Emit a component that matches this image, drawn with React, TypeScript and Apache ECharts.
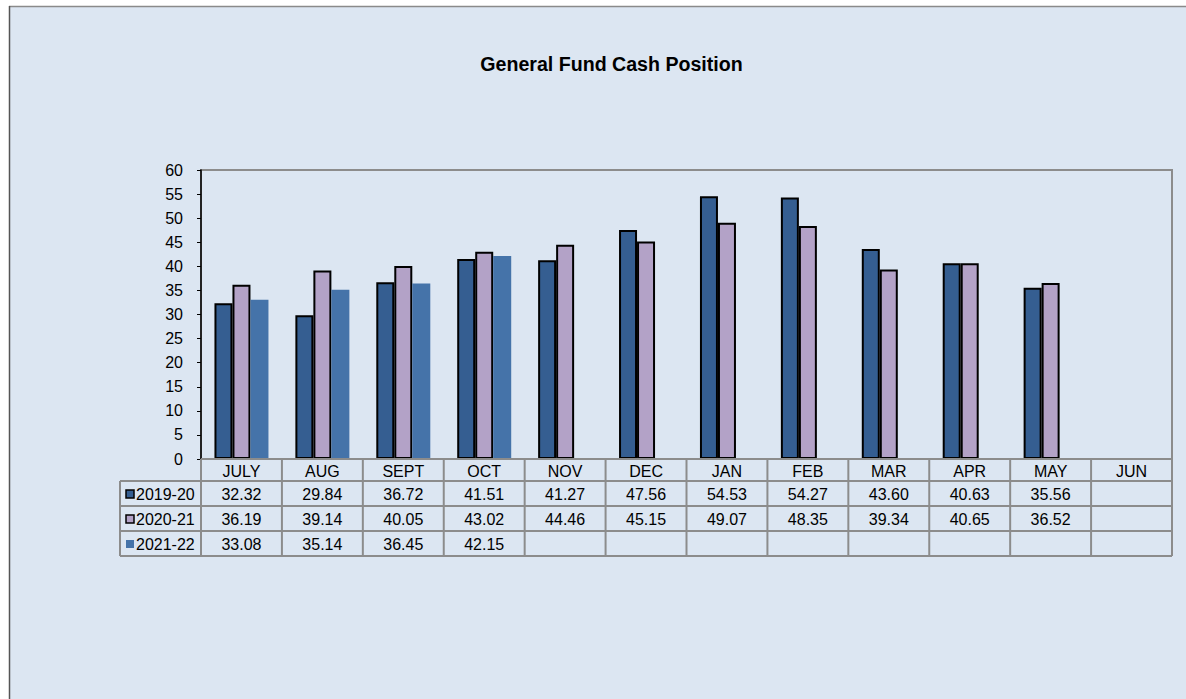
import React, { useEffect, useRef } from "react";
import * as echarts from "echarts";

const months = ["JULY", "AUG", "SEPT", "OCT", "NOV", "DEC", "JAN", "FEB", "MAR", "APR", "MAY", "JUN"];
const seriesNames = ["2019-20", "2020-21", "2021-22"];
const fy2019: (number | null)[] = [32.32, 29.84, 36.72, 41.51, 41.27, 47.56, 54.53, 54.27, 43.6, 40.63, 35.56, null];
const fy2020: (number | null)[] = [36.19, 39.14, 40.05, 43.02, 44.46, 45.15, 49.07, 48.35, 39.34, 40.65, 36.52, null];
const fy2021: (number | null)[] = [33.08, 35.14, 36.45, 42.15, null, null, null, null, null, null, null, null];
const colors = ["#355E91", "#B3A2C7", "#4573A9"];
const borders = ["#000000", "#000000", null];

export default function App() {
  const ref = useRef<HTMLDivElement>(null);
  useEffect(() => {
    if (!ref.current) return;
    const chart = echarts.init(ref.current, undefined, { renderer: "svg" });
    const gridLeft = 201;
    const gridRight = 1172;
    const gridTop = 170;
    const gridBottom = 459;
    const cellW = (gridRight - gridLeft) / months.length;
    const headerH = 22;
    const rowH = 25;
    const legendLeft = 120;
    const lineColor = "#8C8C8C";
    const font = "16px 'Liberation Sans', Arial, sans-serif";
    const allData = [fy2019, fy2020, fy2021];
    const fmt = (v: number | null) => (v == null ? "" : v.toFixed(2));

    const graphics: any[] = [];
    graphics.push({
      type: "rect",
      z: -10,
      shape: { x: 9, y: 6, width: 1186, height: 699 },
      style: { fill: "#DCE6F2" },
      silent: true,
    });
    graphics.push({
      type: "line",
      z: -9,
      shape: { x1: 9, y1: 6.5, x2: 1186, y2: 6.5 },
      style: { stroke: "#8A8A8A", lineWidth: 1.5 },
    });
    graphics.push({
      type: "line",
      z: -9,
      shape: { x1: 9.5, y1: 6, x2: 9.5, y2: 699 },
      style: { stroke: "#555555", lineWidth: 1.5 },
    });
    graphics.push({
      type: "text",
      z: 6,
      x: 611.5,
      y: 64,
      style: {
        text: "General Fund Cash Position",
        fill: "#000",
        font: "bold 19.6px 'Liberation Sans', Arial, sans-serif",
        align: "center",
        verticalAlign: "middle",
      },
    });

    const tableBottom = gridBottom + headerH + rowH * 3;
    const hLines = [
      { y: gridBottom, x1: gridLeft, x2: gridRight },
      { y: gridBottom + headerH, x1: legendLeft, x2: gridRight },
      { y: gridBottom + headerH + rowH, x1: legendLeft, x2: gridRight },
      { y: gridBottom + headerH + rowH * 2, x1: legendLeft, x2: gridRight },
      { y: tableBottom, x1: legendLeft, x2: gridRight },
    ];
    hLines.forEach((l) =>
      graphics.push({
        type: "line",
        z: 5,
        shape: { x1: l.x1, y1: l.y, x2: l.x2, y2: l.y },
        style: { stroke: lineColor, lineWidth: 2 },
      })
    );
    graphics.push({
      type: "line",
      z: 5,
      shape: { x1: legendLeft, y1: gridBottom + headerH, x2: legendLeft, y2: tableBottom },
      style: { stroke: lineColor, lineWidth: 2 },
    });
    for (let i = 0; i <= months.length; i++) {
      const x = gridLeft + i * cellW;
      graphics.push({
        type: "line",
        z: 5,
        shape: { x1: x, y1: gridBottom, x2: x, y2: tableBottom },
        style: { stroke: lineColor, lineWidth: 2 },
      });
    }
    months.forEach((m, i) =>
      graphics.push({
        type: "text",
        z: 6,
        x: gridLeft + (i + 0.5) * cellW,
        y: gridBottom + headerH / 2 + 1,
        style: { text: m, fill: "#000", font, align: "center", verticalAlign: "middle" },
      })
    );
    seriesNames.forEach((name, r) => {
      const cy = gridBottom + headerH + rowH * (r + 0.5) + 1;
      graphics.push({
        type: "rect",
        z: 6,
        shape: { x: 126, y: cy - 4.5, width: 8, height: 8 },
        style: { fill: colors[r], stroke: borders[r] || colors[r], lineWidth: borders[r] ? 1.5 : 0 },
      });
      graphics.push({
        type: "text",
        z: 6,
        x: 136,
        y: cy,
        style: { text: name, fill: "#000", font, align: "left", verticalAlign: "middle" },
      });
      allData[r].forEach((v, i) =>
        graphics.push({
          type: "text",
          z: 6,
          x: gridLeft + (i + 0.5) * cellW,
          y: cy,
          style: { text: fmt(v), fill: "#000", font, align: "center", verticalAlign: "middle" },
        })
      );
    });

    chart.setOption({
      animation: false,
      backgroundColor: "#FFFFFF",
      grid: {
        left: gridLeft,
        right: 1186 - gridRight,
        top: gridTop,
        bottom: 699 - gridBottom,
        show: true,
        borderColor: lineColor,
        borderWidth: 2,
        backgroundColor: "transparent",
      },
      xAxis: {
        type: "category",
        data: months,
        axisLabel: { show: false },
        axisTick: { show: false },
        axisLine: { show: false },
      },
      yAxis: {
        type: "value",
        min: 0,
        max: 60,
        interval: 5,
        axisLine: { show: true, lineStyle: { color: "#000", width: 1.5 } },
        axisTick: { show: true, length: 4, lineStyle: { color: "#000" } },
        splitLine: { show: false },
        axisLabel: {
          color: "#000",
          fontSize: 16,
          fontFamily: "'Liberation Sans', Arial, sans-serif",
          margin: 18,
        },
      },
      series: allData.map((d, i) => ({
        name: seriesNames[i],
        type: "bar",
        data: d,
        barWidth: 18,
        barGap: "0%",
        itemStyle: {
          color: colors[i],
          borderColor: borders[i] || colors[i],
          borderWidth: borders[i] ? 2 : 0,
        },
      })),
      graphic: graphics,
    });
    return () => chart.dispose();
  }, []);
  return (
    <div
      ref={ref}
      style={{ position: "fixed", left: 0, top: 0, width: 1186, height: 699 }}
    />
  );
}
